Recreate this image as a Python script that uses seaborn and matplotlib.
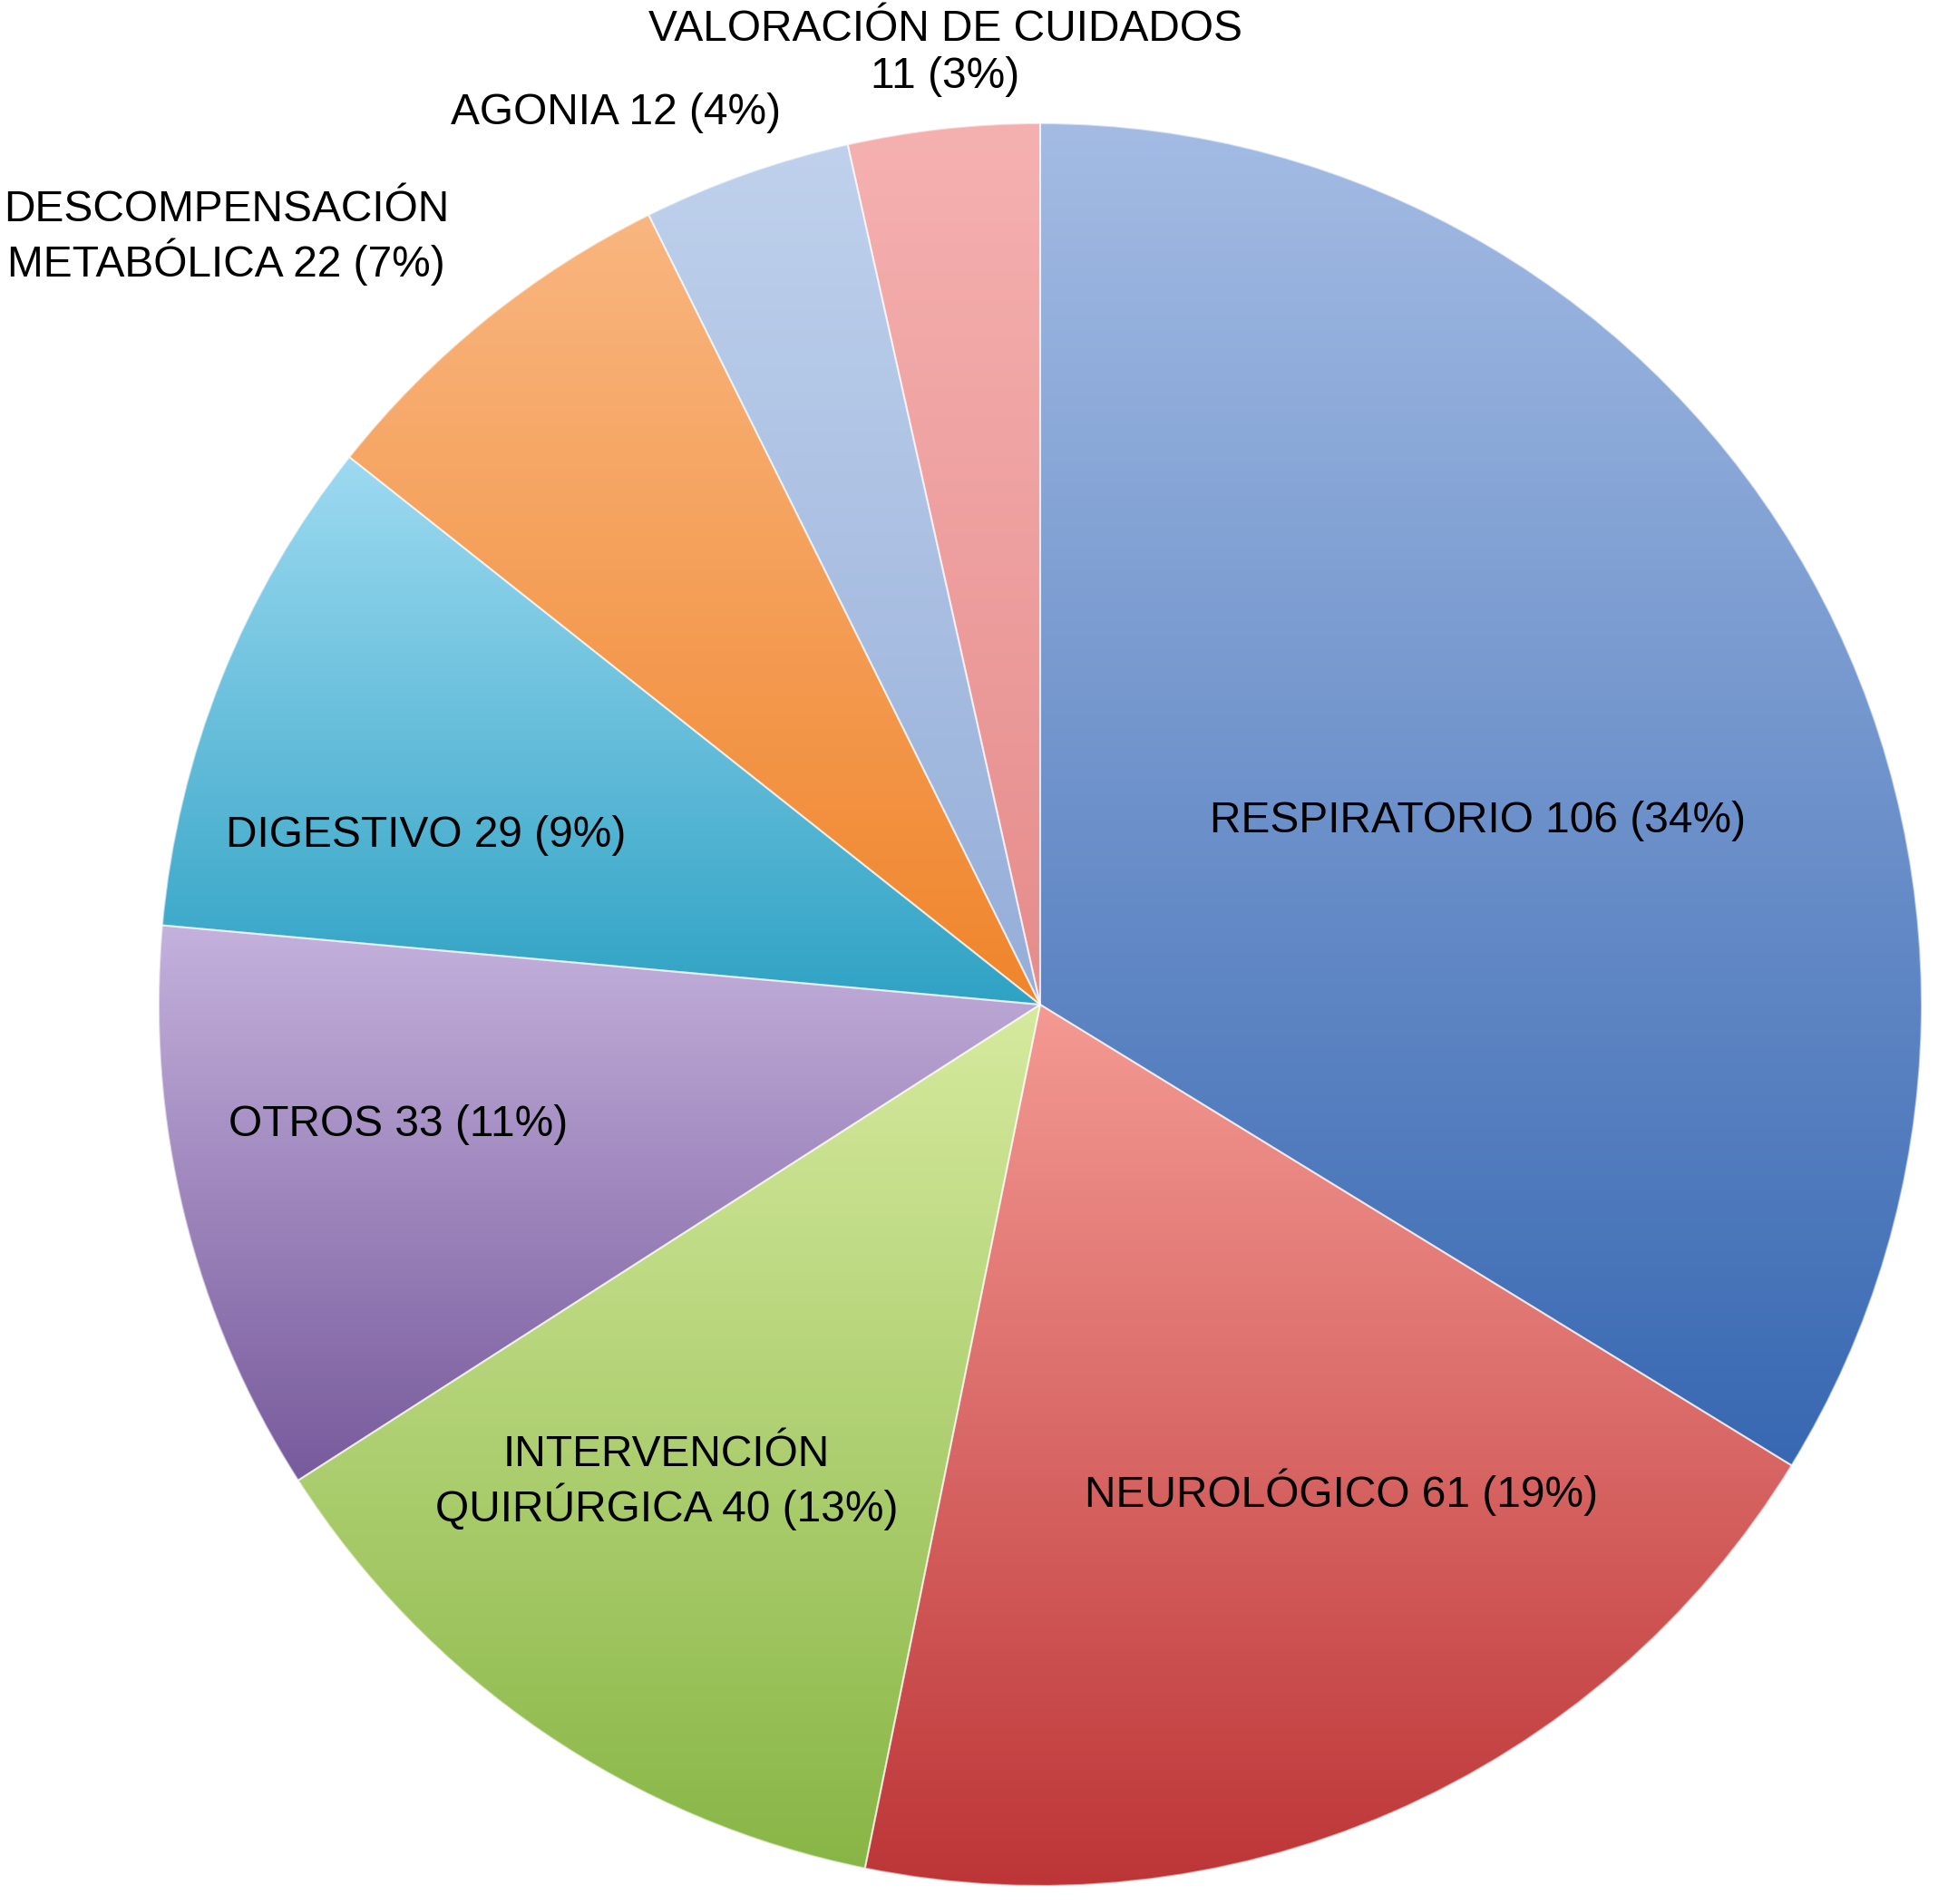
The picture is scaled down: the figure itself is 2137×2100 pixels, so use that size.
import matplotlib.pyplot as plt
import numpy as np
import seaborn as sns

# Data (clockwise from 12 o'clock)
categories = ['RESPIRATORIO', 'NEUROLÓGICO', 'INTERVENCIÓN\nQUIRÚRGICA', 'OTROS',
              'DIGESTIVO', 'DESCOMPENSACIÓN\nMETABÓLICA', 'AGONIA',
              'VALORACIÓN DE CUIDADOS']
counts = [106, 61, 40, 33, 29, 22, 12, 11]
percents = [34, 19, 13, 11, 9, 7, 4, 3]
separators = [' ', ' ', ' ', ' ', ' ', ' ', ' ', '\n']

# gradient colours of each slice (top, bottom)
top_colors = ['#a4bce4', '#f49a93', '#d6ea9e', '#c4b1dc', '#9edaf1', '#f9b680', '#bfd1ec', '#f5b1b0']
bottom_colors = ['#3868b2', '#bd3537', '#88b646', '#775a9c', '#2fa2c4', '#f0852b', '#95aed9', '#e68c8c']

# label placement (data units, pie radius = 1)
label_x = [0.496, 0.342, -0.424, -0.728, -0.697, -0.923, -0.481, -0.108]
label_y = [0.208, -0.553, -0.542, -0.136, 0.192, 0.870, 1.012, 1.080]

sns.set_style('white')
plt.rcParams['font.family'] = ['Liberation Sans', 'DejaVu Sans']

fig = plt.figure(figsize=(21.37, 21.0), dpi=100)
ax = fig.add_axes([0, 0, 1, 1])

wedges, _ = ax.pie(counts, startangle=90, counterclock=False, radius=1, center=(0, 0),
                   wedgeprops=dict(linewidth=1.5, edgecolor=(1, 1, 1, 0.55)))

for w, c_top, c_bot in zip(wedges, top_colors, bottom_colors):
    ext = w.get_path().get_extents()
    grad = np.array(sns.blend_palette([c_top, c_bot], n_colors=256))[:, None, :]
    im = ax.imshow(grad, extent=[ext.x0, ext.x1, ext.y0, ext.y1], origin='upper',
                   aspect='auto', interpolation='bilinear', zorder=1)
    im.set_clip_path(w)
    w.set_facecolor('none')
    w.set_zorder(2)

for cat, sep, n, p, x, y in zip(categories, separators, counts, percents, label_x, label_y):
    ax.text(x, y, f'{cat}{sep}{n} ({p}%)', ha='center', va='center',
            fontsize=34.5, color='black', linespacing=1.2, zorder=3)

ax.set_xlim(-1.180, 1.0185)
ax.set_ylim(-1.0206, 1.1399)
ax.set_aspect('auto')
ax.axis('off')

fig.savefig('out.png', dpi=100)
